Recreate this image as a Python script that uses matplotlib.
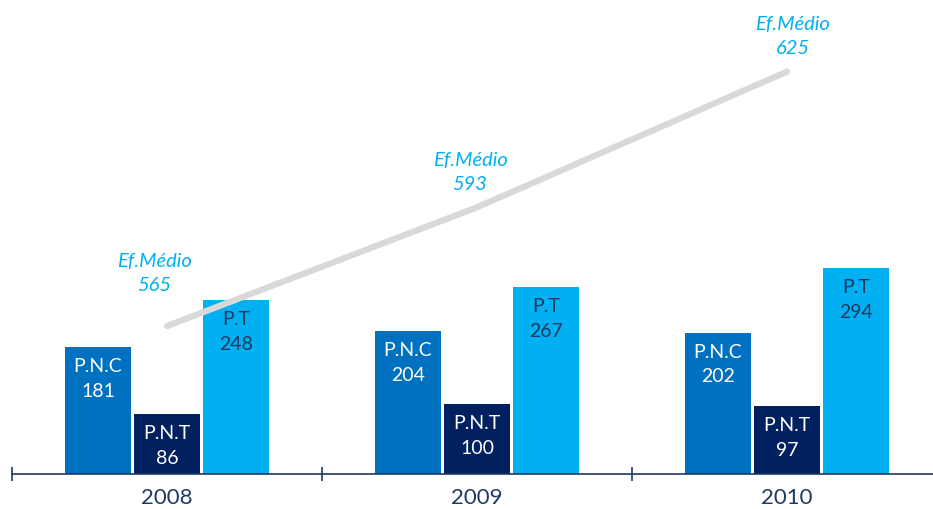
import matplotlib.pyplot as plt
import numpy as np

plt.rcParams['font.family'] = ['Lato', 'DejaVu Sans']

years = ["2008", "2009", "2010"]
pnc = [181, 204, 202]
pnt = [86, 100, 97]
pt = [248, 267, 294]
ef_medio = [565, 593, 625]

c_pnc = "#0070C0"
c_pnt = "#002060"
c_pt = "#00B0F0"
navy = "#1F3864"

fig = plt.figure(figsize=(9.33, 5.09), dpi=100)
ax = fig.add_axes([12 / 933, 35 / 509, 921 / 933, 474 / 509])

x = np.arange(len(years))
w = 0.213
off = 0.2226

series = [(pnc, "P.N.C", c_pnc, "white", -off),
          (pnt, "P.N.T", c_pnt, "white", 0),
          (pt, "P.T", c_pt, navy, off)]

for vals, name, col, tcol, dx in series:
    bars = ax.bar(x + dx, vals, width=w, color=col, zorder=2)
    for b, v in zip(bars, vals):
        ax.annotate(f"{name}\n{v}", (b.get_x() + b.get_width() / 2, v),
                    xytext=(0, -8), textcoords="offset points",
                    ha="center", va="top", color=tcol, fontsize=14,
                    linespacing=1.55, zorder=4)

ax.set_xlim(-0.5, 2.471)
ax.set_ylim(0, 677)

for s in ["top", "right", "left"]:
    ax.spines[s].set_visible(False)
ax.spines["bottom"].set_color(navy)
ax.spines["bottom"].set_linewidth(1.2)
ax.set_yticks([])
ax.set_xticks(x)
ax.set_xticklabels(years, fontsize=16, color=navy)
ax.tick_params(axis="x", which="major", length=0, pad=10)
ax.set_xticks([-0.5, 0.5, 1.5], minor=True)
ax.tick_params(axis="x", which="minor", direction="inout", length=10,
               width=1.2, color=navy)

# efeito médio on a secondary scale
ax2 = ax.twinx()
ax2.set_ylim(530.1, 641.9)
ax2.axis("off")
ax2.plot(x, ef_medio, color="#D9D9D9", linewidth=4.5,
         solid_capstyle="round", zorder=3)

label_offsets = [(-9, 38), (-5, 25), (4, 25)]
for xi, v, (ox, oy) in zip(x, ef_medio, label_offsets):
    ax2.annotate(f"Ef.Médio\n{v}", (xi, v), xytext=(ox, oy),
                 textcoords="offset points", ha="center", va="center",
                 color=c_pt, fontsize=14.5, style="italic", linespacing=1.5)

fig.savefig("out.png", dpi=100)
